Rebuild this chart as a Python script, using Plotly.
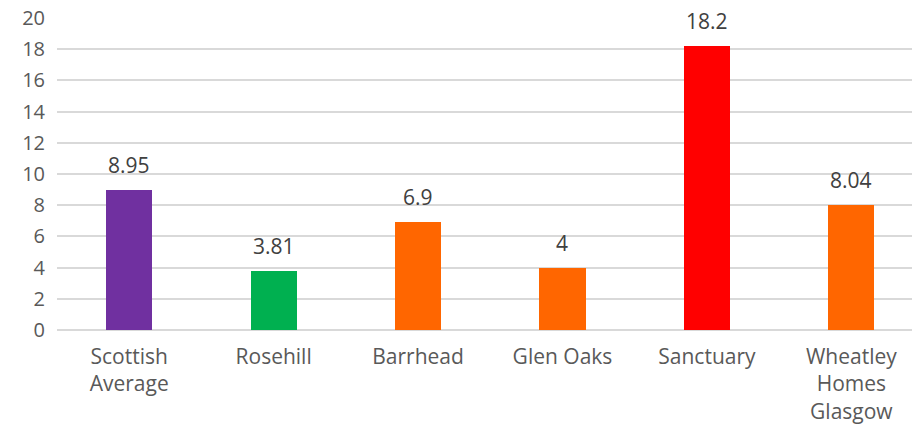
import plotly.graph_objects as go

categories = ["Scottish<br>Average", "Rosehill", "Barrhead", "Glen Oaks", "Sanctuary", "Wheatley<br>Homes<br>Glasgow"]
values = [8.95, 3.81, 6.9, 4, 18.2, 8.04]
labels = ["8.95", "3.81", "6.9", "4", "18.2", "8.04"]
colors = ["#7030A0", "#00B050", "#FF6600", "#FF6600", "#FF0000", "#FF6600"]
yticks = [0, 2, 4, 6, 8, 10, 12, 14, 16, 18, 20]

font_family = "Open Sans, Liberation Sans, sans-serif"
text_color = "#595959"

fig = go.Figure()
fig.add_trace(go.Bar(
    x=list(range(len(categories))),
    y=values,
    marker=dict(color=colors, line=dict(width=0)),
    width=0.32,
    hoverinfo="skip",
))

for i, (v, t) in enumerate(zip(values, labels)):
    fig.add_annotation(
        x=i, y=v, text=t, showarrow=False, yanchor="bottom",
        yshift=9, font=dict(size=21, color="#404040", family=font_family),
    )

fig.update_layout(
    width=912, height=432,
    margin=dict(l=57, r=0, t=18, b=102),
    plot_bgcolor="white", paper_bgcolor="white",
    showlegend=False,
    font=dict(family=font_family, size=19, color=text_color),
    bargap=0,
)
fig.update_xaxes(
    range=[-0.5, 5.42],
    tickvals=list(range(len(categories))),
    ticktext=categories,
    showgrid=False, zeroline=False, showline=False,
    ticks="", ticklabelstandoff=12,
    tickfont=dict(size=21, color=text_color),
)
fig.update_yaxes(
    range=[0, 20],
    tickvals=yticks,
    showgrid=True, gridcolor="#D9D9D9", gridwidth=1.5,
    zeroline=True, zerolinecolor="#D9D9D9", zerolinewidth=1.5,
    showline=False, ticks="", ticklabelstandoff=11,
    tickfont=dict(size=20, color=text_color),
)

fig.write_html("out.html")
